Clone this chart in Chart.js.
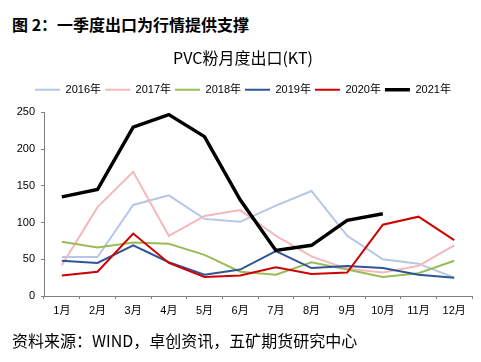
<!DOCTYPE html>
<html><head><meta charset="utf-8">
<script src="https://cdn.jsdelivr.net/npm/chart.js@4/dist/chart.umd.min.js"></script>
<style>
html,body{margin:0;padding:0;background:#fff;}
#wrap{position:relative;width:481px;height:362px;overflow:hidden;}
#c{position:absolute;left:0;top:0;}
.hdr{position:absolute;left:12px;top:14px;font:bold 16px/20px "Noto Sans CJK SC",sans-serif;color:#000;white-space:nowrap;}
.ftr{position:absolute;left:12px;top:330px;font:16px/20px "Noto Sans CJK SC",sans-serif;color:#000;white-space:nowrap;}
</style></head>
<body><div id="wrap">
<div class="hdr">图 2：一季度出口为行情提供支撑</div>
<canvas id="c" width="481" height="362"></canvas>
<div class="ftr">资料来源：WIND，卓创资讯，五矿期货研究中心</div>
</div>
<script>
const months = ['1月','2月','3月','4月','5月','6月','7月','8月','9月','10月','11月','12月'];
const yearLabels = ['2016年','2017年','2018年','2019年','2020年','2021年'];
const y2016 = [53, 53, 124, 137, 105, 101, 123, 143, 82, 50, 44, 25];
const y2017 = [42, 121, 169, 82, 109, 117, 82, 54, 37, 32, 41, 69];
const y2018 = [74, 66, 73, 71, 56, 33, 29, 46, 36, 26, 31, 48];
const y2019 = [48, 45, 69, 46, 29, 36, 61, 38, 41, 38, 29, 25];
const y2020 = [28, 33, 85, 45, 26, 28, 39, 30, 32, 97, 108, 76];
const y2021 = [135, 145, 230, 247, 217, 131, 62, 69, 103, 112];
const yTicks = [0, 50, 100, 150, 200, 250];

const seriesValues = [y2016, y2017, y2018, y2019, y2020, y2021];
const colors = ['#B4C7E7', '#F4B8BB', '#9BBB59', '#2F5597', '#D00000', '#000000'];
const widths = [2, 2, 2, 2, 2, 3.5];

const datasets = seriesValues.map((v, i) => ({
  label: yearLabels[i],
  data: v,
  borderColor: colors[i],
  backgroundColor: colors[i],
  borderWidth: widths[i],
  pointRadius: 0,
  pointHoverRadius: 0,
  pointStyle: 'line',
  tension: 0,
  fill: false,
  order: 5 - i
}));

const axisColor = '#7f7f7f';
const tickFont = {family: '"Liberation Sans", "Noto Sans CJK SC", sans-serif', size: 11};

new Chart(document.getElementById('c'), {
  type: 'line',
  data: {labels: months, datasets},
  options: {
    responsive: false,
    animation: false,
    layout: {padding: {left: 14, right: 9, top: 40, bottom: 36}},
    plugins: {
      tooltip: {enabled: false},
      title: {
        display: true,
        text: 'PVC粉月度出口(KT)',
        color: '#000',
        font: {family: '"Noto Sans CJK SC", sans-serif', size: 16, weight: 'normal'},
        padding: {top: 8, bottom: 13}
      },
      subtitle: {
        display: true,
        text: ' ',
        weight: 500,
        font: {size: 1},
        padding: {top: 0, bottom: 6}
      },
      legend: {
        display: true,
        position: 'top',
        align: 'center',
        labels: {
          usePointStyle: true,
          pointStyle: 'line',
          pointStyleWidth: 25,
          padding: 4,
          color: '#000',
          font: tickFont,
          generateLabels: chart => Chart.defaults.plugins.legend.labels.generateLabels(chart)
            .sort((a, b) => a.datasetIndex - b.datasetIndex)
        }
      }
    },
    scales: {
      x: {
        offset: true,
        grid: {display: true, offset: true, drawOnChartArea: false, drawTicks: true, tickLength: 3, color: axisColor},
        border: {display: true, color: axisColor, width: 1},
        ticks: {color: '#000', font: tickFont, padding: 5, maxRotation: 0, autoSkip: false},
        afterFit: s => { s.height = 30; }
      },
      y: {
        min: 0, max: 250,
        afterBuildTicks: s => { s.ticks = yTicks.map(v => ({value: v})); },
        grid: {display: true, drawOnChartArea: false, drawTicks: true, tickLength: 3, color: axisColor},
        border: {display: true, color: axisColor, width: 1},
        ticks: {color: '#000', font: tickFont, padding: 6},
        afterFit: s => { s.width = 30; }
      }
    }
  }
});
</script>
</body></html>
